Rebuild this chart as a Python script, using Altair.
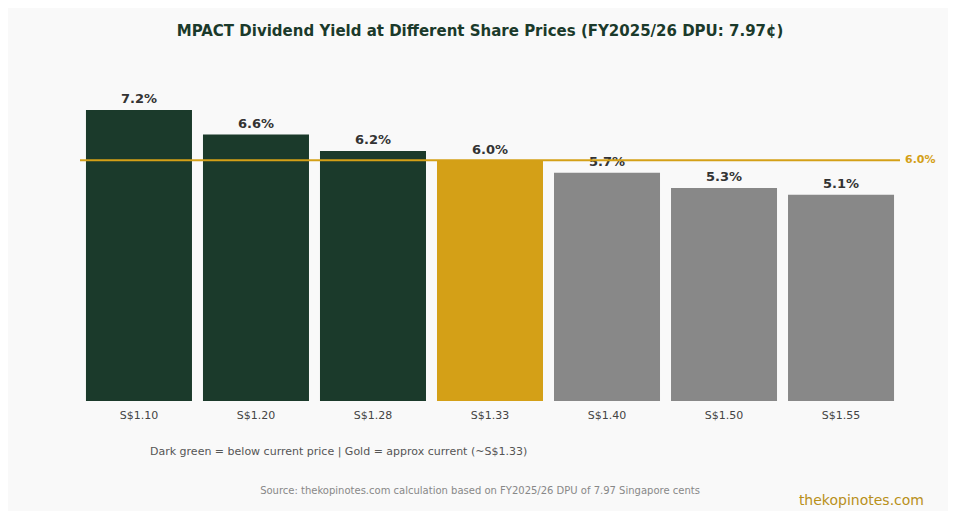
import altair as alt
import pandas as pd

prices = ["S$1.10", "S$1.20", "S$1.28", "S$1.33", "S$1.40", "S$1.50", "S$1.55"]
yields = [7.25, 6.64, 6.23, 5.99, 5.69, 5.31, 5.14]
labels = ["7.2%", "6.6%", "6.2%", "6.0%", "5.7%", "5.3%", "5.1%"]
groups = ["below", "below", "below", "current", "above", "above", "above"]
group_domain = ["below", "current", "above"]
group_colors = ["#1b3a2b", "#d4a017", "#888888"]
ref_value = [6.0]
ref_label = ["6.0%"]

FONT = "DejaVu Sans"
W, H = 820, 321

df = pd.DataFrame({"price": prices, "yield": yields, "label": labels, "group": groups})
ref = pd.DataFrame({"v": ref_value, "t": ref_label})

x = alt.X("price:N", sort=prices, title=None,
          scale=alt.Scale(paddingInner=0.094, paddingOuter=0.051),
          axis=alt.Axis(labelAngle=0, ticks=False, domain=False, labelFont=FONT,
                        labelFontSize=11, labelColor="#444444", labelPadding=8))
y = alt.Y("yield:Q", scale=alt.Scale(domain=[0, 8], nice=False), axis=None)

bars = alt.Chart(df).mark_bar().encode(
    x=x, y=y,
    color=alt.Color("group:N", scale=alt.Scale(domain=group_domain, range=group_colors), legend=None),
)

bar_text = alt.Chart(df).mark_text(font=FONT, fontSize=13, fontWeight="bold", color="#333333",
                                   baseline="bottom", dy=-4).encode(
    x=alt.X("price:N", sort=prices), y="yield:Q", text="label:N")

rule = alt.Chart(ref).mark_rule(color="#d4a017", strokeWidth=2).encode(
    y="v:Q", x=alt.value(0), x2=alt.value(W))

rule_text = alt.Chart(ref).mark_text(font=FONT, fontSize=11, fontWeight="bold", color="#d4a017",
                                     align="left", baseline="middle").encode(
    y="v:Q", x=alt.value(825), text="t:N")

notes = pd.DataFrame({"t": ["Dark green = below current price | Gold = approx current (~S$1.33)"]})
note = alt.Chart(notes).mark_text(font=FONT, fontSize=11, color="#555555", align="left",
                                  baseline="middle").encode(
    x=alt.value(70), y=alt.value(372), text="t:N")

srcs = pd.DataFrame({"t": ["Source: thekopinotes.com calculation based on FY2025/26 DPU of 7.97 Singapore cents"]})
src = alt.Chart(srcs).mark_text(font=FONT, fontSize=10, color="#888888", align="center",
                                baseline="middle").encode(
    x=alt.value(400), y=alt.value(411), text="t:N")

wms = pd.DataFrame({"t": ["thekopinotes.com"]})
wm = alt.Chart(wms).mark_text(font=FONT, fontSize=14, color="#b8901a", align="right",
                              baseline="middle").encode(
    x=alt.value(844), y=alt.value(421), text="t:N")

chart = alt.layer(bars, bar_text, rule, rule_text, note, src, wm).properties(
    width=W, height=H,
    title=alt.TitleParams("MPACT Dividend Yield at Different Share Prices (FY2025/26 DPU: 7.97¢)",
                          font=FONT, fontSize=15, fontWeight="bold", color="#1b3a2b",
                          anchor="middle", offset=41, dx=-10),
    autosize=alt.AutoSizeParams(type="none"),
    padding={"left": 72, "top": 72, "right": 48, "bottom": 110},
    background="#f9f9f9",
).configure_view(stroke=None)

chart.save("out.html", embed_options={"renderer": "svg", "actions": False})
